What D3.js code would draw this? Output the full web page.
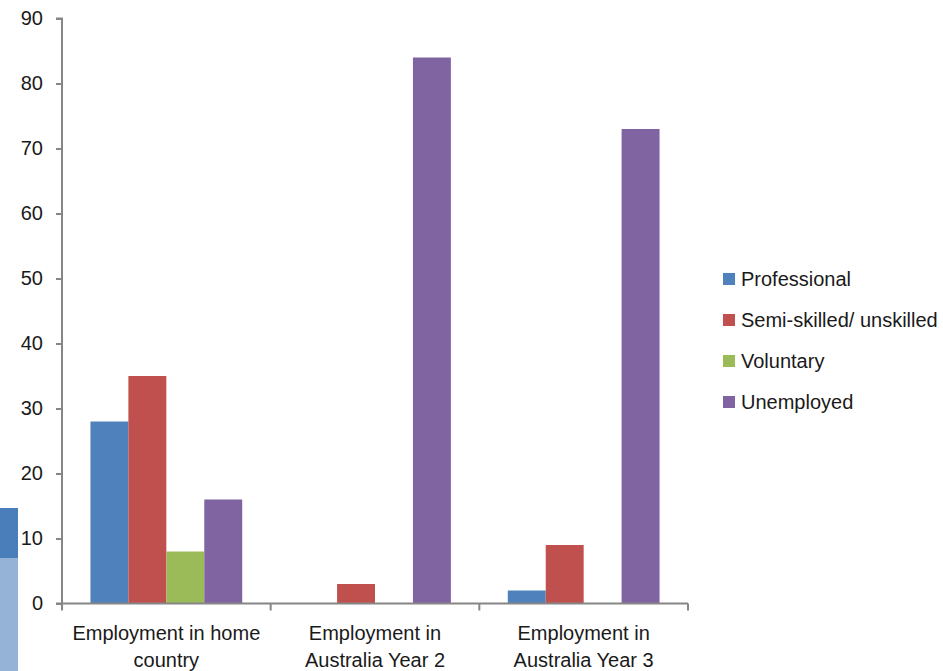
<!DOCTYPE html>
<html><head><meta charset="utf-8">
<script src="https://cdn.jsdelivr.net/npm/d3@7"></script>
<style>body{margin:0;background:#fff}svg{display:block}text{font-family:"Liberation Sans",Arial,sans-serif;fill:#1a1a1a}</style>
</head><body><svg id="c" width="943" height="671"></svg>
<script>
const categories = [["Employment in home","country"],["Employment in","Australia Year 2"],["Employment in","Australia Year 3"]];
const seriesNames = ["Professional","Semi-skilled/ unskilled","Voluntary","Unemployed"];
const colors = ["#4f81bd","#c0504d","#9bbb59","#8064a2"];
const professional = [28, 0, 2];
const semiSkilled = [35, 3, 9];
const voluntary = [8, 0, 0];
const unemployed = [16, 84, 73];
const yTicks = [0,10,20,30,40,50,60,70,80,90];

const seriesValues = [professional, semiSkilled, voluntary, unemployed];
const svg = d3.select("#c");

// cropped-edge artifact at left
svg.append("rect").attr("x",0).attr("y",508).attr("width",18).attr("height",50).attr("fill","#4a7ebb");
svg.append("rect").attr("x",0).attr("y",558).attr("width",18).attr("height",113).attr("fill","#95b3d7");

const x0 = d3.scaleBand().domain(d3.range(categories.length)).range([62,688]).paddingInner(0).paddingOuter(0);
const bw = x0.bandwidth()/5.5;
const y = d3.scaleLinear().domain([0,90]).range([603.5,18.5]);

const g = svg.append("g");
seriesValues.forEach((vals,si)=>{
  g.selectAll(null).data(vals).enter().append("rect")
    .attr("x",(d,i)=>x0(i)+0.75*bw+si*bw)
    .attr("width",bw)
    .attr("y",d=>y(d))
    .attr("height",d=>y(0)-y(d))
    .attr("fill",colors[si]);
});

// y axis
const yAxis = d3.axisLeft(y).tickValues(yTicks).tickSize(6).tickPadding(13);
const ya = svg.append("g").attr("transform","translate(62,0)").call(yAxis);
ya.select(".domain").attr("stroke","#868686").attr("stroke-width",2).attr("d","M-6,18.5H0V603.5H-6");
ya.selectAll(".tick line").attr("stroke","#868686").attr("stroke-width",2);
ya.selectAll(".tick text").style("font-size","20px").attr("fill","#1a1a1a");

// x axis
const xa = svg.append("g").attr("transform","translate(0,603.5)");
xa.append("line").attr("x1",62).attr("x2",688).attr("y1",0).attr("y2",0).attr("stroke","#868686").attr("stroke-width",2);
const bounds = categories.map((c,i)=>x0(i)).concat([688]);
xa.selectAll(null).data(bounds).enter().append("line")
  .attr("x1",d=>d).attr("x2",d=>d).attr("y1",0).attr("y2",7).attr("stroke","#868686").attr("stroke-width",2);
categories.forEach((lines,i)=>{
  const t = xa.append("text").attr("text-anchor","middle").style("font-size","20px")
    .attr("x",x0(i)+x0.bandwidth()/2).attr("y",36);
  lines.forEach((l,k)=>t.append("tspan").attr("x",x0(i)+x0.bandwidth()/2).attr("dy",k?27:0).text(l));
});

// legend
const lg = svg.append("g");
seriesNames.forEach((n,i)=>{
  const yy = 279 + i*41;
  lg.append("rect").attr("x",723).attr("y",yy-6).attr("width",12).attr("height",12).attr("fill",colors[i]);
  lg.append("text").attr("x",741).attr("y",yy+7).style("font-size","20px").text(n);
});
</script></body></html>
